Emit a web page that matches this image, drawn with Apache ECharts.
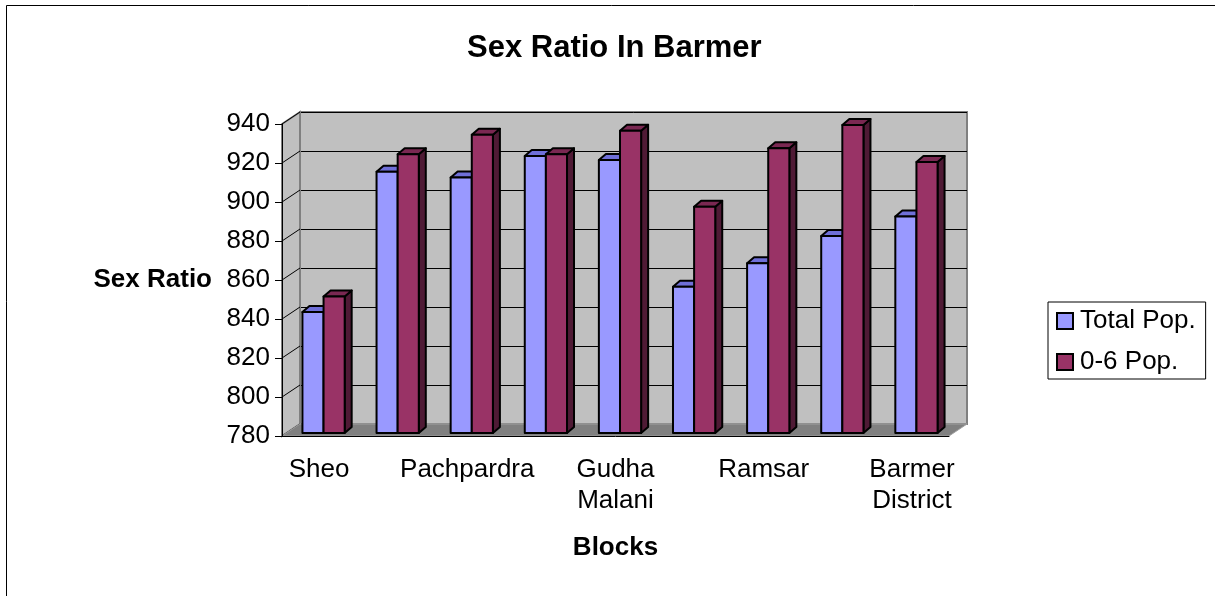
<!DOCTYPE html>
<html>
<head>
<meta charset="utf-8">
<title>Sex Ratio In Barmer</title>
<script src="https://cdn.jsdelivr.net/npm/echarts@6/dist/echarts.min.js"></script>
<style>
  html, body { margin: 0; padding: 0; background: #fff; }
  #chart { width: 1215px; height: 596px; }
</style>
</head>
<body>
<div id="chart"></div>
<script>
// data
var blocks = ['Sheo', 'Baytu', 'Pachpardra', 'Siwana', 'Gudha\nMalani', 'Chohtan', 'Ramsar', 'Dhorimanna', 'Barmer\nDistrict'];
var totalPop = [842, 914, 911, 922, 920, 855, 867, 881, 891];
var childPop = [850, 923, 933, 923, 935, 896, 926, 938, 919];
var yTicks = [780, 800, 820, 840, 860, 880, 900, 920, 940];

var FONT = '"Liberation Sans", Arial, sans-serif';
// depth of the 3d box (back wall offset from the front)
var DX = 18, DY = -12;

var chart = echarts.init(document.getElementById('chart'));

// floor + left wall, drawn off the front grid
function renderWalls(params, api) {
  var cs = params.coordSys;
  var L = cs.x, R = cs.x + cs.width, T = cs.y, B = cs.y + cs.height;
  var children = [
    {
      type: 'polygon',
      shape: { points: [[L, T], [L + DX, T + DY], [L + DX, B + DY], [L, B]] },
      style: { fill: '#C0C0C0', stroke: '#808080', lineWidth: 2 }
    }
  ];
  yTicks.forEach(function (v) {
    var y = api.coord([0, v])[1];
    children.push({
      type: 'line',
      shape: { x1: L, y1: y, x2: L + DX, y2: y + DY },
      style: { stroke: '#000', lineWidth: 1 }
    });
  });
  children.push({
    type: 'polygon',
    shape: { points: [[L, B], [R, B], [R + DX, B + DY], [L + DX, B + DY]] },
    style: { fill: '#808080', stroke: '#A0A0A0', lineWidth: 1 }
  });
  return { type: 'group', children: children };
}

// one 3d column: front face, top cap, right side
function makeBar(which, front, top, side) {
  return function (params, api) {
    var idx = api.value(0);
    var p = api.coord([idx, api.value(1)]);
    var base = api.coord([idx, yTicks[0]]);
    var catW = api.size([1, 0])[0];
    var w = catW * 0.285;
    var d = 7, h = -6;
    var sx = DX * 0.25, sy = DY * 0.25;
    var x0 = p[0] - (which === 0 ? w : 0) + sx;
    var yt = p[1] + sy, yb = base[1] + sy;
    var line = { stroke: '#000', lineWidth: 2, lineJoin: 'round' };
    return {
      type: 'group',
      children: [
        { type: 'polygon', shape: { points: [[x0 + w, yt], [x0 + w, yb], [x0 + w + d, yb + h], [x0 + w + d, yt + h]] },
          style: Object.assign({ fill: side }, line) },
        { type: 'polygon', shape: { points: [[x0, yt], [x0 + w, yt], [x0 + w + d, yt + h], [x0 + d, yt + h]] },
          style: Object.assign({ fill: top }, line) },
        { type: 'rect', shape: { x: x0, y: yt, width: w, height: yb - yt },
          style: Object.assign({ fill: front }, line) }
      ]
    };
  };
}

chart.setOption({
  backgroundColor: '#fff',
  animation: false,
  title: {
    text: 'Sex Ratio In Barmer',
    left: 462,
    top: 28,
    textStyle: { fontFamily: FONT, fontSize: 31, fontWeight: 'bold', color: '#000' }
  },
  legend: {
    data: ['Total Pop.', '0-6 Pop.'],
    orient: 'vertical',
    left: 1048,
    top: 302,
    padding: [6, 10, 4, 8],
    itemGap: 15,
    itemWidth: 16,
    itemHeight: 16,
    icon: 'rect',
    borderColor: '#000',
    borderWidth: 1,
    borderRadius: 0,
    itemStyle: { borderColor: '#000', borderWidth: 2 },
    textStyle: { fontFamily: FONT, fontSize: 26, color: '#000', padding: [0, 0, 0, 2] }
  },
  graphic: [
    {
      type: 'rect',
      shape: { x: 6.5, y: 5.5, width: 1300, height: 700 },
      style: { fill: 'none', stroke: '#000', lineWidth: 1 },
      silent: true
    }
  ],
  grid: [
    { left: 282, right: 266, top: 124, bottom: 160 },
    { left: 300, right: 248, top: 112, bottom: 172, show: true,
      backgroundColor: '#C0C0C0', borderColor: '#808080', borderWidth: 2 }
  ],
  xAxis: [
    {
      type: 'category',
      gridIndex: 0,
      data: blocks,
      name: 'Blocks',
      nameLocation: 'middle',
      nameGap: 99,
      nameTextStyle: { fontFamily: FONT, fontSize: 26, fontWeight: 'bold', color: '#000' },
      z: 10,
      axisLine: { lineStyle: { color: '#000', width: 1 } },
      axisTick: { length: 7, lineStyle: { color: '#000' } },
      axisLabel: { interval: 1, margin: 18, fontFamily: FONT, fontSize: 26, color: '#000', lineHeight: 31 }
    },
    { type: 'category', gridIndex: 1, data: blocks, show: false }
  ],
  yAxis: [
    {
      type: 'value',
      gridIndex: 0,
      min: yTicks[0],
      max: yTicks[yTicks.length - 1],
      interval: 20,
      name: 'Sex Ratio',
      nameLocation: 'middle',
      nameRotate: 0,
      nameGap: 70,
      nameTextStyle: { fontFamily: FONT, fontSize: 26, fontWeight: 'bold', color: '#000', align: 'right' },
      z: 10,
      axisLine: { show: true, lineStyle: { color: '#000', width: 1 } },
      axisTick: { show: true, length: 7, lineStyle: { color: '#000' } },
      splitLine: { show: false },
      axisLabel: { margin: 12, fontFamily: FONT, fontSize: 26, color: '#000' }
    },
    {
      type: 'value',
      gridIndex: 1,
      min: yTicks[0],
      max: yTicks[yTicks.length - 1],
      interval: 20,
      axisLine: { show: false },
      axisTick: { show: false },
      axisLabel: { show: false },
      splitLine: { lineStyle: { color: '#000', width: 1 } }
    }
  ],
  series: [
    {
      type: 'custom',
      name: 'walls',
      xAxisIndex: 0,
      yAxisIndex: 0,
      renderItem: renderWalls,
      data: [[0, yTicks[0]]],
      silent: true,
      z: 1
    },
    {
      type: 'custom',
      name: 'Total Pop.',
      xAxisIndex: 0,
      yAxisIndex: 0,
      itemStyle: { color: '#9999FF' },
      renderItem: makeBar(0, '#9999FF', '#6F6FD8', '#4C4CA0'),
      data: totalPop.map(function (v, i) { return [i, v]; }),
      clip: false,
      z: 3
    },
    {
      type: 'custom',
      name: '0-6 Pop.',
      xAxisIndex: 0,
      yAxisIndex: 0,
      itemStyle: { color: '#993366' },
      renderItem: makeBar(1, '#993366', '#7A2852', '#4F1A35'),
      data: childPop.map(function (v, i) { return [i, v]; }),
      clip: false,
      z: 4
    }
  ]
});
</script>
</body>
</html>
